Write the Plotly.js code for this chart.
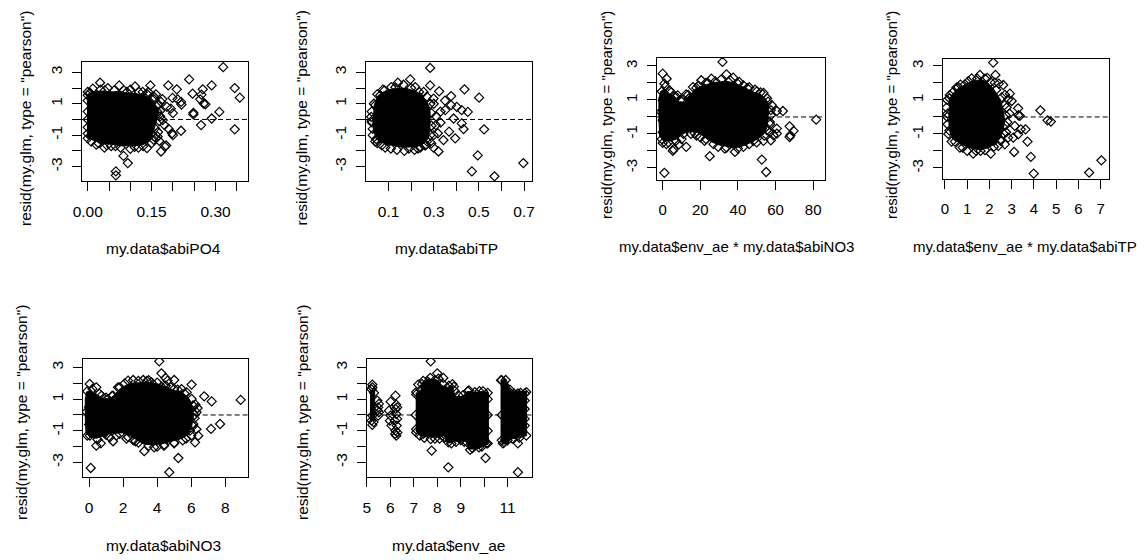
<!DOCTYPE html>
<html>
<head>
<meta charset="utf-8">
<script src="https://cdn.plot.ly/plotly-3.0.1.min.js"></script>
<style>
  html, body { margin: 0; padding: 0; background: #fff; }
  #chart { width: 1147px; height: 560px; }
</style>
</head>
<body>
<div id="chart"></div>
<script>
// Pearson residuals of my.glm plotted against each predictor.
// Each panel: the solid, fully overplotted core of the cloud (outline),
// plus the individual points around its edge and the outliers.

// ---- my.data$abiPO4 ----
const po4X = [0.318,0.345,0.357,0.345,0.238,0.291,0.27,0.267,0.246,0.264,0.272,0.276,0.309,0.291,0.266,0.248,0.248,
  0.209,0.189,0.211,0.199,0.219,0.219,0.198,0.184,0.172,0.094,0.084,0.066,0.066,0.029,0.074,0.111,0.147,0.142,
  0.172,0.186,0.195,0.176,0.18,0.164,0.168,0.181,0.139,0.119,0.1,0.077,0.039,0.008,0.0,0.0,0.012,0.047,0.062,
  0.092,0.129,0.156,0.152,0.164,0.158,0.0,0.0,0.0,0.02,0.055,0.13,0.15,0.16,0.17,0.175,0.16,0.03,0.1,0.22,0.2,0.19,0.2,
  0.0,0.0,0.0,0.005,0.04,0.085,0.12,0.14,0.155,0.165,0.17,0.168,0.165,0.155,0.11,0.065,0.025,0.045];
const po4Y = [3.33,2.0,1.39,-0.63,2.55,2.17,1.92,1.58,1.64,1.28,1.01,0.97,0.48,0.06,-0.36,0.42,0.32,
  1.92,2.17,1.28,1.37,1.12,-0.72,-0.88,-1.66,-2.04,-2.78,-2.32,-3.31,-3.56,2.34,2.17,2.1,2.17,1.75,
  1.12,0.8,0.69,-0.04,-0.36,-1.09,-1.37,-1.73,-1.83,-1.79,-1.87,-1.79,-1.79,-1.41,1.54,1.75,1.96,2.0,1.85,
  1.75,1.75,1.43,0.69,0.48,-0.57,-1.2,0.5,-0.5,-1.6,-1.7,-1.7,-1.5,-1.2,0.2,1.3,1.6,1.9,1.9,0.95,0.4,-0.6,-1.0,
  1.2,0.0,-0.9,1.7,1.85,1.85,1.75,1.6,1.3,0.9,0.55,-0.1,-0.8,-1.3,-1.75,-1.7,-1.5,-1.65];
const po4CoreX = [-0.002,0.012,0.031,0.055,0.074,0.094,0.113,0.133,0.143,0.152,0.161,0.167,0.164,0.160,0.156,
  0.151,0.142,0.129,0.102,0.078,0.055,0.035,0.016,0.0,-0.002];
const po4CoreY = [1.58,1.75,1.81,1.75,1.79,1.68,1.64,1.54,1.39,1.18,0.84,0.55,0.17,-0.25,-0.67,
  -1.09,-1.41,-1.62,-1.68,-1.68,-1.56,-1.56,-1.35,-1.2,-0.99];

// ---- my.data$abiTP ----
const tpX = [0.284,0.196,0.141,0.284,0.324,0.436,0.501,0.377,0.402,0.424,0.451,0.377,0.351,0.388,0.424,0.432,0.523,
  0.395,0.368,0.343,0.321,0.299,0.495,0.469,0.569,0.697,0.085,0.137,0.215,0.262,0.041,0.026,0.023,0.041,0.063,
  0.082,0.112,0.166,0.218,0.255,0.299,0.309,0.318,0.289,0.05,0.03,0.025,0.17,0.24,0.27,0.3,0.31,0.33,0.3,0.35,0.33,
  0.035,0.05,0.075,0.13,0.2,0.235,0.27,0.285,0.29,0.29,0.285,0.265,0.23,0.19,0.11,0.07,0.045,0.03,0.025];
const tpY = [3.28,2.55,2.34,2.17,1.79,1.92,1.39,1.49,0.8,0.59,0.48,0.91,0.59,0.06,-0.25,-0.61,-0.63,
  -1.2,-0.78,-1.31,-2.04,-1.79,-2.29,-3.31,-3.62,-2.78,-1.79,-1.94,-1.94,-1.66,-1.41,-0.19,0.17,0.91,1.54,
  1.85,2.06,2.21,2.06,1.75,1.33,-0.36,-0.88,-1.52,-1.5,-1.0,0.5,-2.0,-1.8,-1.4,-1.0,0.2,0.5,1.0,1.2,-0.2,
  1.0,1.6,1.9,2.05,2.0,1.75,1.45,1.0,0.4,-0.4,-1.0,-1.6,-1.85,-1.85,-1.85,-1.65,-1.25,-0.6,-0.1];
const tpCoreX = [0.034,0.050,0.071,0.100,0.129,0.159,0.188,0.218,0.243,0.262,0.277,0.284,0.284,0.283,0.276,
  0.262,0.236,0.203,0.159,0.122,0.085,0.059,0.041,0.032,0.029];
const tpCoreY = [0.80,1.47,1.71,1.89,1.96,2.0,1.94,1.81,1.58,1.28,0.91,0.48,-0.15,-0.67,-1.16,
  -1.47,-1.68,-1.75,-1.77,-1.68,-1.56,-1.33,-1.03,-0.57,0.06];

// ---- my.data$env_ae * my.data$abiNO3 ----
const aeNo3X = [31.8,0,2.1,0.9,3.6,8.0,12.5,20.5,16.1,17.9,25.9,33.9,37.5,40.7,42.9,49.1,53.6,58.0,63.9,60.7,81.6,
  67.5,69.6,67.9,67.5,60.7,60.7,58.9,57.1,55.4,53.6,57.5,52.7,55.0,0.9,5.4,5.8,12.5,8.6,25.0,38.4,33.0,29.5,
  42.9,48.2,22.3,0,0,0,0,0,2,10,15,18,20,10,14,6,45,50,56,57.5,57,50,28,23,
  -0.5,1.5,4.5,7,9.5,13.5,19,24,31,36,40,46,52,55.5,57.5,57,54,46,40,34,27,23,17,11,7,3,-0.5,-1];
const aeNo3Y = [3.24,2.55,2.25,1.96,1.57,1.27,1.33,2.16,1.76,1.71,2.25,2.51,2.31,2.06,1.86,1.61,1.41,0.69,0.35,0.35,-0.16,
  -0.55,-0.82,-1.08,-1.18,-0.69,-0.98,-1.08,-0.43,-0.78,-1.41,-1.37,-2.51,-3.24,-3.29,-2.0,-1.9,-1.76,-1.61,-2.31,-2.06,-1.86,-1.76,
  -1.76,-1.41,-1.41,-1.53,-0.2,0.98,0.4,-0.9,-1.6,-1.3,-1.0,-1.1,-1.2,0.9,1.1,1.2,1.7,1.5,0.9,0.1,-0.9,-1.5,2.1,2.0,
  1.5,1.8,1.45,1.2,1.0,1.3,1.85,2.0,2.2,2.15,1.95,1.75,1.45,1.1,0.4,-0.3,-1.1,-1.6,-1.85,-1.8,-1.6,-1.3,-0.95,-1.0,-1.4,-1.5,-1.3,0.3];
const aeNo3CoreX = [-1.4,0.9,3.6,6.3,8.9,11.6,14.3,17.0,19.6,23.2,26.8,30.4,33.9,37.5,41.1,44.6,48.2,51.8,54.6,56.4,
  56.3,55.9,55.4,53.8,51.3,47.9,44.5,41.1,37.5,33.2,29.6,26.1,22.7,19.6,16.1,12.5,9.8,7.1,3.6,0.0,-1.6,-2.0,-2.0];
const aeNo3CoreY = [1.47,1.65,1.37,1.10,0.90,0.86,1.27,1.57,1.76,1.90,2.02,2.06,2.10,2.02,1.86,1.67,1.45,1.33,1.08,0.75,
  0.29,-0.20,-0.63,-1.0,-1.24,-1.43,-1.63,-1.76,-1.82,-1.71,-1.63,-1.47,-1.20,-0.94,-0.86,-0.90,-1.06,-1.31,-1.43,-1.37,-1.12,-0.20,1.18];

// ---- my.data$env_ae * my.data$abiTP ----
const aeTpX = [2.17,2.27,1.57,1.20,2.42,2.62,2.24,2.92,2.84,3.0,3.29,3.37,3.3,4.29,4.61,4.76,3.14,3.41,3.62,3.71,
  3.29,3.07,3.11,3.86,3.99,6.48,7.03,2.69,2.06,1.27,0.67,0.30,0.12,0.07,0.22,0.52,0.90,2.77,2.84,0.1,0.15,0.1,
  1.0,1.6,2.4,2.75,2.8,2.9,2.7,1.9,0.7,
  0.2,0.35,0.6,1.05,1.45,1.8,2.05,2.3,2.55,2.68,2.73,2.72,2.65,2.5,2.2,1.8,1.4,0.8,0.45,0.2,0.12];
const aeTpY = [3.20,2.47,2.47,2.27,1.96,1.88,2.02,1.37,1.04,0.94,0.51,0.06,0.1,0.39,-0.20,-0.27,-0.53,-0.73,-0.73,-1.45,
  -1.02,-1.22,-2.06,-2.35,-3.33,-3.27,-2.55,-1.61,-2.16,-2.16,-1.80,-1.45,-0.43,0.55,1.29,1.73,1.92,0.55,-1.22,0.0,-1.0,1.0,
  -2.0,-2.0,-1.7,-0.9,-0.3,0.2,1.3,2.3,1.9,
  1.1,1.45,1.75,2.1,2.25,2.25,2.05,1.6,1.15,0.7,0.1,-0.5,-1.0,-1.4,-1.75,-1.95,-2.0,-1.8,-1.45,-0.8,0.2];
const aeTpCoreX = [0.18,0.33,0.55,0.84,1.12,1.42,1.72,1.91,2.12,2.33,2.50,2.59,2.66,2.66,2.60,2.48,2.26,1.97,1.65,
  1.27,0.91,0.63,0.37,0.24,0.18,0.18];
const aeTpCoreY = [0.98,1.33,1.63,1.86,2.04,2.16,2.16,2.02,1.75,1.37,1.0,0.55,0.06,-0.43,-0.88,-1.25,-1.57,-1.80,-1.92,
  -1.88,-1.71,-1.51,-1.27,-0.96,-0.43,0.55];

// ---- my.data$abiNO3 ----
const no3X = [4.12,4.25,4.49,4.61,5.0,4.25,4.80,6.02,6.76,7.20,6.37,8.90,7.69,7.16,6.41,6.22,5.24,4.71,5.0,4.41,3.82,
  3.24,2.73,1.41,0.69,0.43,0.10,0.04,0.43,0.73,1.41,1.80,2.29,2.59,3.18,3.67,5.43,5.73,0.92,1.22,6.02,6.25,6.31,
  6.12,5.92,0.0,0.0,0.05,2.2,2.6,4.0,5.5,6.0,6.2,6.3,3.5,5.2,1.1,1.6,
  -0.1,0.2,0.6,1.0,1.35,1.7,2.1,2.9,3.4,4.0,4.5,5.0,5.6,6.1,6.18,6.1,5.7,5.0,4.4,3.5,2.9,2.3,1.8,1.0,0.5,-0.1,-0.15];
const no3Y = [3.39,2.63,2.34,2.17,2.21,1.79,1.75,1.92,1.18,0.86,0.44,0.95,-0.57,-0.88,-1.31,-1.73,-2.72,-3.62,-1.79,-1.87,-2.04,
  -2.29,-1.66,-1.66,-1.79,-1.94,-3.35,1.96,1.75,1.22,1.22,1.75,2.17,2.21,2.21,2.06,1.64,1.43,-1.09,-1.41,1.01,0.65,0.17,
  -0.57,-0.99,0.5,-0.6,-1.3,-1.5,-1.6,-2.0,-1.6,-1.3,-0.2,-0.9,2.2,1.6,1.0,-1.3,
  1.5,1.65,1.35,1.1,1.2,1.75,2.0,2.15,2.15,2.05,1.85,1.65,1.35,0.6,0.0,-0.7,-1.5,-1.75,-1.95,-1.95,-1.75,-1.4,-1.2,-1.25,-1.55,-1.3,0.2];
const no3CoreX = [-0.18,0.06,0.43,0.82,1.22,1.51,1.80,2.20,2.59,3.08,3.57,4.06,4.55,5.04,5.43,5.67,5.92,6.08,6.12,
  6.02,5.84,5.57,5.20,4.82,4.25,3.67,3.20,2.82,2.43,2.0,1.61,1.22,0.82,0.43,0.06,-0.18,-0.22,-0.22];
const no3CoreY = [1.43,1.54,1.33,1.03,1.03,1.28,1.64,1.89,2.02,2.06,2.06,1.96,1.75,1.54,1.43,1.24,0.95,0.48,-0.15,
  -0.74,-1.20,-1.41,-1.56,-1.68,-1.83,-1.89,-1.83,-1.58,-1.33,-1.12,-1.12,-1.16,-1.35,-1.47,-1.41,-1.12,-0.15,1.12];

// ---- my.data$env_ae ----
const aeX = [5.23,5.23,5.2,5.3,5.23,5.2,5.23,5.28,5.44,5.48,5.51,5.48,5.51,5.45,
  6.01,6.22,5.94,6.01,5.98,6.22,6.29,6.25,6.19,6.27,6.22,6.25,6.05,6.29,6.25,6.2,6.3,
  7.72,8.00,8.26,7.19,7.50,8.71,8.75,7.76,8.47,10.06,7.40,7.72,8.47,9.0,9.78,10.09,7.1,7.1,7.25,8.3,8.8,
  9.3,9.6,9.95,10.15,10.15,9.25,9.5,8.1,7.9,7.6,7.35,
  10.75,10.92,11.27,11.44,11.73,11.73,11.73,11.73,11.73,11.63,11.44,11.27,11.44,11.44,10.85,10.8,11.0,11.2,11.55,11.1,
  7.1,7.3,7.4,7.7,8.05,8.25,8.5,8.65,8.9,9.1,9.35,9.8,10.15,10.15,10.15,9.9,9.4,9.15,8.6,8.3,7.9,7.45,7.1,7.08,
  10.72,10.75,10.75,11.05,11.5,11.8,11.8];
const aeY = [1.92,1.75,1.62,1.4,-0.04,-0.36,-0.63,-0.45,0.91,0.48,0.17,-0.04,0.7,0.3,
  0.84,1.22,0.27,-0.04,-0.36,0.38,0.48,0.06,-0.36,-0.67,-0.99,-1.31,-0.67,-0.25,0.65,-1.2,-1.1,
  3.39,2.63,2.34,1.92,1.75,1.79,1.5,-2.25,-3.31,-2.72,-1.20,-1.52,-1.73,-1.58,-2.04,-1.79,1.3,-0.9,-1.3,-1.4,-1.7,
  1.5,1.45,1.5,1.4,-1.8,-1.7,-2.1,-1.5,2.2,2.1,1.95,
  2.2,2.21,1.37,1.37,1.37,0.91,0.38,-0.25,-0.67,-1.09,-1.31,-0.88,-3.62,-1.79,-1.73,-1.8,-1.6,-1.5,1.4,1.6,
  1.45,1.6,2.15,2.35,2.3,1.95,1.85,1.95,1.25,1.25,1.55,1.5,1.0,0.0,-1.0,-2.0,-2.2,-1.7,-1.8,-1.45,-1.5,-1.45,-1.1,0.0,
  2.2,-1.6,0.0,1.5,-1.45,1.45,-1.3];
const aeCoreX = [5.13,5.33,5.33,5.13,null,
  7.08,7.29,7.36,7.65,8.00,8.21,8.43,8.64,8.76,9.07,9.28,9.64,9.92,10.18,10.18,9.99,9.71,9.35,9.21,8.71,8.64,
  8.43,8.29,8.14,7.79,7.43,7.22,7.08,null,
  10.70,10.92,11.06,11.13,11.81,11.81,11.49,11.13,10.99,10.78,10.70];
const aeCoreY = [1.55,1.55,-0.35,-0.35,null,
  1.37,1.49,2.06,2.27,2.21,1.85,1.75,1.85,1.16,1.16,1.49,1.43,1.49,1.43,-1.83,-1.94,-2.15,-2.15,-1.66,-1.66,-1.73,
  -1.79,-1.31,-1.37,-1.41,-1.37,-1.20,-0.99,null,
  2.17,2.27,1.85,1.49,1.49,-1.31,-1.41,-1.52,-1.83,-1.83,-1.52];

// Shared y axis: every integer ticked, odd ones labelled.
const yTickVals = [-3,-2,-1,0,1,2,3];
const yTickText = ['-3','','-1','','1','','3'];
const yTitle = 'resid(my.glm, type = "pearson")';

const W = 1147, H = 560;
const FONT = 'Liberation Sans, Arial, sans-serif';

// box: [left, right, top, bottom] in page pixels
const panels = [
  { x: po4X, y: po4Y, cx: po4CoreX, cy: po4CoreY, box: [82, 247.5, 62, 181],
    xr: [-0.0135, 0.375], yr: [-3.92, 3.66],
    xt: [0,0.05,0.1,0.15,0.2,0.25,0.3,0.35], xl: ['0.00','','','0.15','','','0.30',''],
    title: 'my.data$abiPO4', tx: 163, ty: 248.3, yx: 25.5, yy: 118.5, fs: 15.5 },
  { x: tpX, y: tpY, cx: tpCoreX, cy: tpCoreY, box: [366, 531.5, 62, 181],
    xr: [0.0, 0.733], yr: [-3.92, 3.66],
    xt: [0.1,0.2,0.3,0.4,0.5,0.6,0.7], xl: ['0.1','','0.3','','0.5','','0.7'],
    title: 'my.data$abiTP', tx: 446.5, ty: 248.3, yx: 301, yy: 118.5, fs: 15.5 },
  { x: aeNo3X, y: aeNo3Y, cx: aeNo3CoreX, cy: aeNo3CoreY, box: [657, 825, 58, 179.5],
    xr: [-3.03, 86.3], yr: [-3.68, 3.47],
    xt: [0,20,40,60,80], xl: ['0','20','40','60','80'],
    title: 'my.data$env_ae * my.data$abiNO3', tx: 736.7, ty: 246.7, yx: 607, yy: 115, fs: 15 },
  { x: aeTpX, y: aeTpY, cx: aeTpCoreX, cy: aeTpCoreY, box: [942.7, 1108.5, 58.5, 179],
    xr: [-0.10, 7.35], yr: [-3.65, 3.44],
    xt: [0,1,2,3,4,5,6,7], xl: ['0','1','2','3','4','5','6','7'],
    title: 'my.data$env_ae * my.data$abiTP', tx: 1025, ty: 246.7, yx: 892, yy: 115, fs: 15 },
  { x: no3X, y: no3Y, cx: no3CoreX, cy: no3CoreY, box: [82.7, 247.5, 358.5, 477],
    xr: [-0.37, 9.30], yr: [-3.92, 3.57],
    xt: [0,2,4,6,8], xl: ['0','2','4','6','8'],
    title: 'my.data$abiNO3', tx: 163.5, ty: 545, yx: 21, yy: 413, fs: 15.5 },
  { x: aeX, y: aeY, cx: aeCoreX, cy: aeCoreY, box: [366.7, 531.5, 358.5, 477],
    xr: [4.99, 12.02], yr: [-3.92, 3.57],
    xt: [5,6,7,8,9,10,11], xl: ['5','6','7','8','9','','11'],
    title: 'my.data$env_ae', tx: 448.5, ty: 545, yx: 302, yy: 413, fs: 15.5 }
];

const data = [];
const layout = {
  width: W, height: H,
  margin: { l: 0, r: 0, t: 0, b: 0 },
  paper_bgcolor: '#fff', plot_bgcolor: '#fff',
  showlegend: false,
  font: { family: FONT, color: '#000' },
  shapes: [], annotations: []
};

panels.forEach((p, i) => {
  const n = i === 0 ? '' : String(i + 1);
  const xa = 'x' + n, ya = 'y' + n;
  const [l, r, t, b] = p.box;

  data.push({
    type: 'scatter', mode: 'lines', x: p.cx, y: p.cy, xaxis: xa, yaxis: ya,
    fill: 'toself', fillcolor: '#000', line: { color: '#000', width: 1 },
    hoverinfo: 'skip'
  });
  data.push({
    type: 'scatter', mode: 'markers', x: p.x, y: p.y, xaxis: xa, yaxis: ya,
    marker: { symbol: 'diamond-open', size: 7, color: '#000', line: { color: '#000', width: 1.2 } },
    hoverinfo: 'x+y'
  });

  const common = {
    showgrid: false, zeroline: false, showline: true, mirror: true,
    linecolor: '#000', linewidth: 1, ticks: 'outside', ticklen: 9,
    tickwidth: 1, tickcolor: '#000', fixedrange: true,
    tickfont: { family: FONT, size: p.fs, color: '#000' }
  };
  layout['xaxis' + n] = Object.assign({}, common, {
    domain: [l / W, r / W], range: p.xr, anchor: ya,
    tickmode: 'array', tickvals: p.xt, ticktext: p.xl, tickangle: 0,
    ticklabelstandoff: 7
  });
  layout['yaxis' + n] = Object.assign({}, common, {
    domain: [1 - b / H, 1 - t / H], range: p.yr, anchor: xa,
    tickmode: 'array', tickvals: yTickVals, ticktext: yTickText, tickangle: -90,
    ticklabelstandoff: 4
  });

  // reference line at zero residual
  layout.shapes.push({
    type: 'line', xref: xa + ' domain', yref: ya, x0: 0, x1: 1, y0: 0, y1: 0,
    line: { color: '#000', width: 1, dash: '5px,3px' }
  });

  layout.annotations.push({
    text: p.title, xref: 'paper', yref: 'paper', x: p.tx / W, y: 1 - p.ty / H,
    xanchor: 'center', yanchor: 'middle', showarrow: false,
    font: { family: FONT, size: p.fs, color: '#000' }
  });
  layout.annotations.push({
    text: yTitle, xref: 'paper', yref: 'paper', x: p.yx / W, y: 1 - p.yy / H,
    xanchor: 'center', yanchor: 'middle', showarrow: false, textangle: -90,
    font: { family: FONT, size: p.fs, color: '#000' }
  });
});

Plotly.newPlot('chart', data, layout, { displayModeBar: false, staticPlot: true });
</script>
</body>
</html>
